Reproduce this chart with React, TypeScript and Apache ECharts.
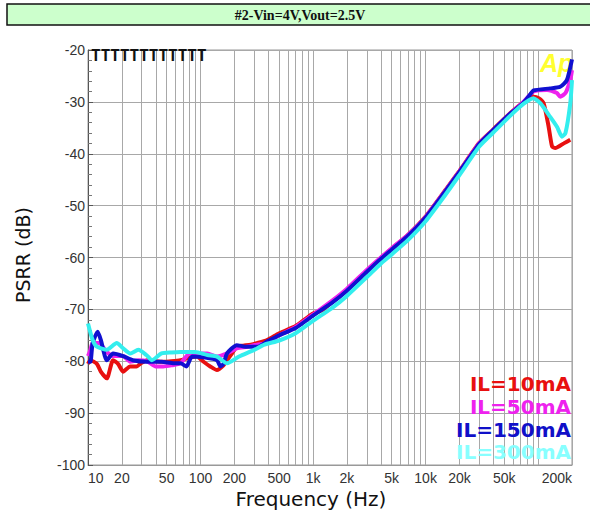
import React, { useEffect, useRef } from "react";
import * as echarts from "echarts";

const TITLE = "#2-Vin=4V,Vout=2.5V";
const X_NAME = "Frequency (Hz)";
const Y_NAME = "PSRR (dB)";
const X_MIN_HZ = 10;
const X_MAX_HZ = 200000;
const Y_MIN = -100;
const Y_MAX = -20;
const Y_STEP = 10;
const X_GRID_FREQS = [20, 30, 40, 50, 60, 70, 80, 90, 100, 200, 300, 400, 500, 600, 700, 800, 900, 1000, 2000, 3000, 4000, 5000, 6000, 7000, 8000, 9000, 10000, 20000, 30000, 40000, 50000, 60000, 70000, 80000, 90000, 100000, 200000];
const X_LABEL_FREQS = [10, 20, 50, 100, 200, 500, 1000, 2000, 5000, 10000, 20000, 50000, 200000];

const LEGEND_NAMES = ["IL=10mA", "IL=50mA", "IL=150mA", "IL=300mA"];
const LINE_COLORS = ["#e81010", "#ee22ee", "#1010d0", "#33eeee"];
const LEGEND_COLORS = ["#e81010", "#ee22ee", "#1010c8", "#88ffff"];

const FREQ_10MA = [10, 10.5, 12, 13, 14.7, 16.7, 18.5, 20.5, 23.7, 27, 30, 33.4, 40, 46.6, 55, 66.3, 80, 93, 105, 122, 140, 160, 172, 190, 210, 240, 280, 317, 390, 500, 700, 1000, 1200, 1500, 2000, 3000, 4000, 5000, 7000, 10000, 15000, 20000, 30000, 40000, 57000, 74000, 91000, 101000, 112000, 124000, 133000, 142000, 169000, 193000];
const PSRR_10MA = [-80.5, -79.8, -80.5, -82, -83.3, -79.8, -80.5, -82, -81, -81, -80.3, -79.8, -80, -80.1, -80, -79.8, -79.3, -79.1, -80, -81, -81.7, -80.8, -79.8, -78.5, -77.2, -77, -76.8, -76.5, -75.9, -74.6, -73.2, -70.8, -70.2, -68.4, -66.2, -62.6, -60.1, -58.3, -55.6, -52.1, -47, -43.3, -37.9, -35.3, -32.1, -30.1, -29.0, -29.3, -30.3, -34.8, -38.6, -38.9, -38, -37.3];

const FREQ_50MA = [10, 10.5, 11, 12.5, 14.7, 16.7, 20.5, 23.7, 28, 33.4, 40, 46.6, 55, 66.3, 80, 93, 115, 140, 172, 210, 260, 317, 390, 500, 700, 1000, 1500, 2000, 3000, 4000, 5000, 7000, 10000, 15000, 20000, 30000, 40000, 57000, 74000, 91000, 120000, 147000, 157000, 175000, 193000, 200000];
const PSRR_50MA = [-79, -77.8, -76.5, -76.5, -78.2, -79, -79, -80.1, -79.8, -80, -81, -81, -80.8, -80.4, -78.5, -78.5, -78.5, -79.1, -78.5, -77.5, -77.2, -76.8, -76.5, -75, -73.4, -71.0, -68.2, -66.0, -62.4, -60.0, -58.2, -55.6, -52.2, -47.1, -43.4, -38.0, -35.4, -32.2, -30.0, -28.0, -27.7, -28.3, -29, -28.3, -25.8, -23.9];

const FREQ_150MA = [10, 10.5, 11, 12.2, 13, 14.7, 16.7, 20.5, 25, 33, 45, 58, 66.3, 75, 84, 110, 140, 150, 160, 172, 210, 250, 320, 390, 500, 700, 1000, 1500, 2000, 3000, 4000, 5000, 7000, 10000, 15000, 20000, 30000, 40000, 57000, 74000, 85000, 91000, 128000, 157000, 180000, 200000];
const PSRR_150MA = [-80.1, -80.1, -76.5, -74.3, -75.9, -79.8, -78.5, -79, -79.8, -80.1, -80.1, -80.4, -80.4, -81, -79.1, -79.3, -79.8, -81, -80.5, -78.5, -76.9, -77.2, -77.2, -76.2, -75, -73.6, -71.2, -68.6, -66.4, -62.8, -60.3, -58.5, -55.8, -52.3, -47.2, -43.5, -38.1, -35.4, -32.2, -30.2, -28.6, -27.8, -27.4, -27.1, -25.8, -21.8];

const FREQ_300MA = [10, 11, 12, 14.7, 18, 20.5, 23.7, 28, 33, 37, 45, 55, 66.3, 90, 115, 140, 172, 220, 300, 370, 500, 700, 1000, 1500, 2000, 3000, 4000, 5000, 7000, 10000, 15000, 20000, 30000, 40000, 57000, 74000, 91000, 105000, 128000, 147000, 163000, 175000, 193000, 200000];
const PSRR_300MA = [-72.7, -75.9, -77.2, -77.8, -76.5, -77.5, -78.5, -77.8, -78.8, -79.8, -78.5, -78.3, -78.2, -78.2, -78.8, -79.1, -80.4, -79.1, -77.8, -76.8, -76, -74.6, -72.2, -69.6, -67.4, -63.8, -61.2, -59.4, -56.6, -53.0, -47.9, -44.1, -38.6, -35.9, -32.6, -30.4, -29.3, -30.3, -32.9, -34.8, -36.7, -36, -30.3, -25.8];

const SERIES_FREQS = [FREQ_10MA, FREQ_50MA, FREQ_150MA, FREQ_300MA];
const SERIES_VALUES = [PSRR_10MA, PSRR_50MA, PSRR_150MA, PSRR_300MA];

const lg = (f: number) => Math.log10(f);
const fmtFreq = (v: number) => {
  const f = Math.round(Math.pow(10, v));
  return f >= 1000 ? `${f / 1000}k` : String(f);
};

export default function App() {
  const ref = useRef<HTMLDivElement>(null);
  useEffect(() => {
    if (!ref.current) return;
    const chart = echarts.init(ref.current, null, { renderer: "svg" });
    const gridColor = "#a8a8a8";
    const labelFont = "'Liberation Sans', Arial, sans-serif";
    const series = SERIES_FREQS.map((fs, i) => ({
      name: LEGEND_NAMES[i],
      type: "line",
      data: fs.map((f, j) => [lg(f), SERIES_VALUES[i][j]]),
      showSymbol: false,
      smooth: 0.2,
      lineStyle: { width: 4, color: LINE_COLORS[i] },
      itemStyle: { color: LINE_COLORS[i] },
      z: 3 + i,
    }));
    chart.setOption({
      animation: false,
      backgroundColor: "#ffffff",
      grid: {
        left: 88,
        right: 18,
        top: 50,
        bottom: 54,
        show: true,
        borderColor: "#999999",
        borderWidth: 1,
        backgroundColor: "#ffffff",
      },
      xAxis: {
        type: "value",
        min: lg(X_MIN_HZ),
        max: lg(X_MAX_HZ),
        axisLine: { show: true, lineStyle: { color: "#999999" } },
        axisTick: { show: false, customValues: X_GRID_FREQS.map(lg) },
        splitLine: { show: true, lineStyle: { color: gridColor, width: 1 } },
        axisLabel: {
          customValues: X_LABEL_FREQS.map(lg),
          formatter: fmtFreq,
          color: "#333333",
          fontSize: 14,
          fontFamily: labelFont,
          margin: 6,
          alignMinLabel: "left",
          alignMaxLabel: "right",
        },
      },
      yAxis: {
        type: "value",
        min: Y_MIN,
        max: Y_MAX,
        interval: Y_STEP,
        axisLine: { show: true, lineStyle: { color: "#555555" } },
        axisTick: { show: true, inside: true, length: 5, lineStyle: { color: "#555555" } },
        minorTick: { show: true, splitNumber: 5, length: 4, lineStyle: { color: "#777777" } },
        splitLine: { show: true, lineStyle: { color: gridColor, width: 1 } },
        axisLabel: {
          color: "#333333",
          fontSize: 14,
          fontFamily: labelFont,
          margin: 3,
        },
      },
      series,
      graphic: [
        {
          type: "rect",
          shape: { x: 7, y: 4, width: 600, height: 21 },
          style: { fill: "#ccffcc", stroke: "#111111", lineWidth: 1.5 },
          z: 10,
        },
        {
          type: "text",
          x: 300,
          y: 15,
          style: {
            text: TITLE,
            fill: "#111111",
            font: "bold 14px 'Liberation Serif', serif",
            align: "center",
            verticalAlign: "middle",
          },
          z: 11,
        },
        {
          type: "text",
          x: 91,
          y: 47,
          style: {
            text: "TTTTTTTTTTTT",
            fill: "#111111",
            font: "bold 16px 'DejaVu Sans Mono', monospace",
            align: "left",
            verticalAlign: "top",
          },
          z: 20,
        },
        {
          type: "text",
          x: 540,
          y: 50,
          style: {
            text: "Ap",
            fill: "#ffff30",
            font: "italic bold 25px 'Liberation Sans', Arial, sans-serif",
            align: "left",
            verticalAlign: "top",
          },
          z: 1,
        },
        ...LEGEND_NAMES.map((name, i) => ({
          type: "text",
          x: 571,
          y: [384, 407, 430, 452][i],
          style: {
            text: name,
            fill: LEGEND_COLORS[i],
            font: "bold 20px 'DejaVu Sans', sans-serif",
            align: "right",
            verticalAlign: "middle",
          },
          z: 30,
        })),
        {
          type: "text",
          x: 311,
          y: 499,
          style: {
            text: X_NAME,
            fill: "#111111",
            font: "20px 'DejaVu Sans', sans-serif",
            align: "center",
            verticalAlign: "middle",
          },
          z: 30,
        },
        {
          type: "text",
          x: 23,
          y: 255,
          rotation: Math.PI / 2,
          style: {
            text: Y_NAME,
            fill: "#111111",
            font: "19px 'DejaVu Sans', sans-serif",
            align: "center",
            verticalAlign: "middle",
          },
          z: 30,
        },
      ],
    });
    return () => chart.dispose();
  }, []);
  return (
    <div
      ref={ref}
      style={{ position: "absolute", left: 0, top: 0, width: 590, height: 519 }}
    />
  );
}
